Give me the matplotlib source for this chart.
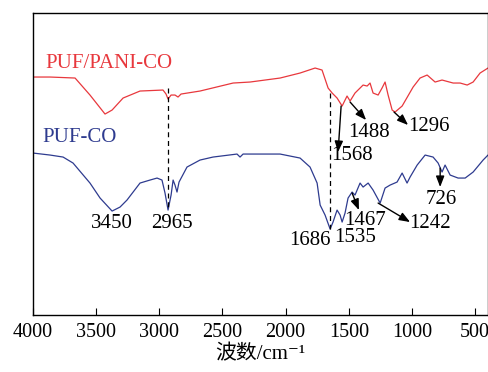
import matplotlib
matplotlib.use('Agg')
import matplotlib.pyplot as plt

plt.rcParams['font.family'] = ['Liberation Serif', 'Noto Sans CJK SC', 'DejaVu Serif']

# wavenumber (cm-1) and transmittance (a.u., offset)
wn_pani = [4000, 3865, 3667, 3549, 3430, 3374, 3287, 3153, 2971, 2947, 2931, 2907, 2876, 2852,
           2828, 2678, 2416, 2282, 2044, 1886, 1767, 1712, 1664, 1632, 1593, 1553, 1514, 1490,
           1451, 1387, 1355, 1332, 1308, 1268, 1237, 1213, 1189, 1157, 1134, 1078, 991, 936,
           880, 817, 762, 674, 619, 563, 516, 461, 398]
t_pani = [238, 238, 237, 220, 201, 205, 217, 224, 225, 221, 216, 220, 220, 218,
          221, 224, 232, 233, 237, 242, 247, 245, 227, 222, 217, 209, 219, 214,
          222, 230, 229, 232, 222, 220, 227, 233, 220, 205, 203, 209, 228, 237,
          240, 233, 235, 232, 232, 230, 233, 242, 247]

wn_co = [4000, 3865, 3762, 3683, 3549, 3469, 3374, 3311, 3256, 3153, 3074, 3018, 2979, 2955,
         2931, 2907, 2891, 2876, 2860, 2844, 2781, 2678, 2575, 2385, 2361, 2337, 2044, 1886,
         1807, 1751, 1727, 1688, 1648, 1625, 1593, 1569, 1553, 1530, 1506, 1474, 1451, 1411,
         1387, 1347, 1308, 1252, 1213, 1173, 1118, 1078, 1039, 1015, 959, 896, 833, 793,
         762, 738, 698, 635, 579, 516, 437, 398]
t_co = [162, 160, 158, 152, 132, 117, 104, 108, 115, 132, 135, 137, 135, 122,
        105, 120, 135, 130, 123, 133, 148, 155, 158, 161, 158, 161, 161, 157,
        148, 132, 110, 100, 86, 93, 105, 100, 93, 102, 117, 123, 120, 132,
        128, 132, 125, 112, 127, 130, 133, 142, 132, 138, 150, 160, 158, 152,
        143, 150, 140, 137, 137, 143, 155, 160]

# peak labels
peak_labels = ['3450', '2965', '1686', '1535', '1467', '1242', '726', '1568', '1488', '1296']
label_wn = [3374, 2899, 1807, 1451, 1371, 857, 769, 1474, 1340, 865]
label_t = [92, 92, 75, 78, 95, 92, 116, 160, 183, 189]

# arrows: start -> tip
arrow_start = [(1561, 209), (1490, 213), (1142, 203), (1474, 122), (1268, 112), (777, 147)]
arrow_end = [(1585, 163), (1363, 195), (1031, 190), (1420, 105), (1015, 93), (777, 128)]

# dashed guide lines
guide_wn = [2931, 1648]
guide_top = [227, 222]
guide_bottom = [105, 86]

red = '#e8383d'
blue = '#2e3b8f'

fig = plt.figure(figsize=(4.89, 3.72), dpi=100)
ax = fig.add_axes([0.0675, 0.153, 0.930, 0.812])

ax.plot(wn_pani, t_pani, color=red, lw=0.9)
ax.plot(wn_co, t_co, color=blue, lw=0.9)

for x, y0, y1 in zip(guide_wn, guide_top, guide_bottom):
    ax.plot([x, x], [y0, y1], color='k', lw=0.9, ls=(0, (4, 3)))

ax.text(3905, 252, 'PUF/PANI-CO', color=red, fontsize=15, ha='left', va='center')
ax.text(3929, 178, 'PUF-CO', color=blue, fontsize=15, ha='left', va='center')

for s, x, y in zip(peak_labels, label_wn, label_t):
    ax.text(x, y, s, fontsize=15, ha='center', va='center')

for st, en in zip(arrow_start, arrow_end):
    ax.annotate('', xy=en, xytext=st,
                arrowprops=dict(arrowstyle='-|>,head_length=0.65,head_width=0.25',
                                color='k', lw=1, mutation_scale=10,
                                shrinkA=0, shrinkB=0))

ax.set_xlim(4000, 400)
ax.set_ylim(0, 302)
ax.set_xticks([4000, 3500, 3000, 2500, 2000, 1500, 1000, 500])
ax.set_yticks([])
ax.tick_params(axis='x', direction='in', length=5, labelsize=14.5, pad=6)
ax.set_xlabel('波数/cm⁻¹', fontsize=15, labelpad=2)
for sp in ax.spines.values():
    sp.set_linewidth(1)

fig.savefig('out.png', dpi=100)
